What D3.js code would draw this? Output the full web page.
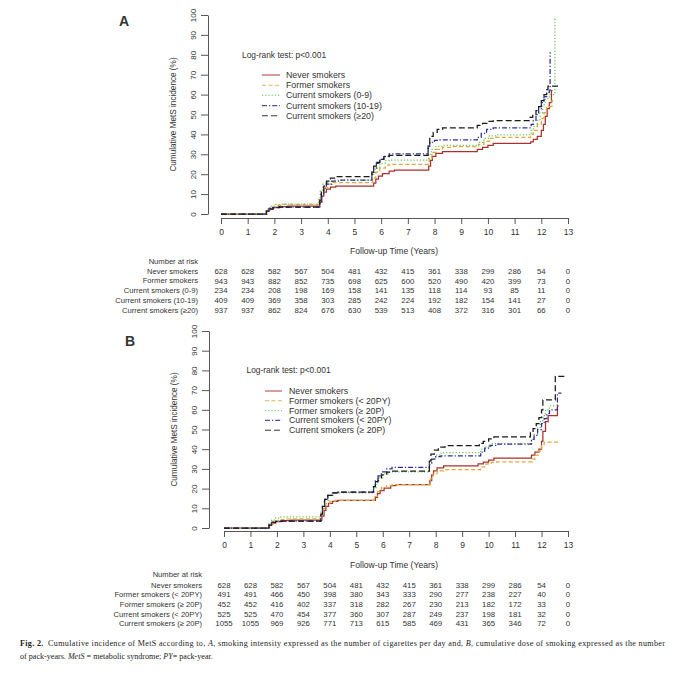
<!DOCTYPE html>
<html>
<head>
<meta charset="utf-8">
<script src="https://cdn.jsdelivr.net/npm/d3@7"></script>
<style>
  html, body { margin: 0; padding: 0; background: #fff; }
  svg { display: block; }
  text { font-family: "Liberation Sans", Arial, sans-serif; fill: #333; }
  .cap text, text.cap { font-family: "Liberation Serif", "Times New Roman", serif; fill: #222; }
</style>
</head>
<body>
<svg id="chart" width="680" height="681"></svg>
<script>
// ---------------- data ----------------
const timeTicks = [0,1,2,3,4,5,6,7,8,9,10,11,12,13];
const yTicks = [0,10,20,30,40,50,60,70,80,90,100];
const logRankText = "Log-rank test: p<0.001";
const xTitle = "Follow-up Time (Years)";
const yTitle = "Cumulative MetS incidence (%)";

// Panel A: smoking intensity
const namesA = ["Never smokers","Former smokers","Current smokers (0-9)","Current smokers (10-19)","Current smokers (\u226520)"];
const neverA = [[0,0],[1.65,0],[1.7,1.5],[1.8,2.5],[1.95,3.2],[2.15,3.7],[2.5,4],[3.65,4],[3.7,6],[3.78,9],[3.85,11],[3.95,12.5],[4.1,13.5],[4.3,14],[5.65,14],[5.72,15.5],[5.8,17.5],[5.9,19],[6.05,20.3],[6.3,21.5],[6.5,22],[7.72,22],[7.78,24],[7.85,27],[7.92,29],[8.05,30.5],[8.3,31.3],[9.5,31.3],[9.6,32.5],[9.8,33.5],[10,34.5],[10.2,35.5],[11.5,35.5],[11.6,36.3],[11.7,37.5],[11.85,39],[12.0,42],[12.08,45],[12.15,49],[12.22,53],[12.3,56],[12.38,62],[12.42,62]];
const formerA = [[0,0],[1.65,0],[1.72,2],[1.85,3.5],[2.05,4.3],[2.3,4.8],[3.6,4.8],[3.68,7],[3.75,10],[3.85,13],[4.0,15],[4.2,15.8],[5.6,15.8],[5.68,18],[5.8,21],[5.95,23],[6.15,24.5],[6.3,25],[7.72,25],[7.8,28],[7.9,31],[8.05,32.5],[8.3,33.5],[8.6,33.8],[9.5,33.8],[9.65,35],[9.85,36.5],[10.05,38],[10.3,38.5],[11.5,38.5],[11.6,40],[11.7,42],[11.85,45],[12.0,48],[12.1,51],[12.2,54],[12.35,54],[12.4,57],[12.45,57]];
const cur09A = [[0,0],[1.65,0],[1.72,2.5],[1.85,4],[2.05,4.8],[2.3,5],[3.6,5],[3.66,8],[3.72,12],[3.82,15],[4.0,16.5],[4.2,17],[5.6,17],[5.67,20],[5.78,23],[5.95,25.5],[6.15,26.8],[6.3,27.1],[7.72,27.1],[7.78,30],[7.88,32.5],[8.05,34],[8.3,34.5],[9.5,34.5],[9.65,36],[9.85,38],[10.05,39.3],[10.3,39.7],[11.55,39.7],[11.62,42],[11.7,44],[11.85,47],[11.95,51],[12.05,55],[12.15,58],[12.3,60],[12.5,60],[12.51,98],[12.52,98]];
const cur1019A = [[0,0],[1.65,0],[1.7,1.5],[1.8,2.8],[1.95,3.3],[2.2,3.5],[3.65,3.5],[3.7,6],[3.76,10],[3.85,13],[3.95,15],[4.15,16.5],[4.4,17],[5.6,17],[5.65,20],[5.72,23],[5.82,25.5],[5.95,27.5],[6.1,29],[6.3,30.2],[7.72,30.2],[7.76,34],[7.82,36],[8.0,37],[8.2,37.2],[9.5,37.2],[9.6,38.5],[9.75,40.5],[9.95,42.5],[10.2,43.3],[11.55,43.3],[11.62,45],[11.7,47],[11.8,50],[11.9,53],[12.0,56],[12.1,59],[12.2,61],[12.3,62],[12.33,81],[12.36,81]];
const cur20A = [[0,0],[1.65,0],[1.7,1.5],[1.8,2.5],[1.95,3.2],[2.2,3.5],[3.65,3.5],[3.7,7],[3.76,11],[3.85,14],[3.95,16.5],[4.1,18],[4.3,18.8],[5.6,18.8],[5.65,21],[5.72,24],[5.82,26],[5.95,27.5],[6.1,28.8],[6.3,29.5],[7.72,29.5],[7.76,35],[7.82,39],[7.95,41],[8.1,42.5],[8.3,43.3],[9.5,43.3],[9.6,44.5],[9.8,45.5],[10.0,46.5],[10.2,46.9],[11.5,46.9],[11.58,48.5],[11.68,50],[11.8,52],[11.9,54],[12.0,57],[12.1,60],[12.2,62.5],[12.25,64.3],[12.68,64.3]];
const riskNeverA   = [628,628,582,567,504,481,432,415,361,338,299,286,54,0];
const riskFormerA  = [943,943,882,852,735,698,625,600,520,490,420,399,73,0];
const riskCur09A   = [234,234,208,198,169,158,141,135,118,114,93,85,11,0];
const riskCur1019A = [409,409,369,358,303,285,242,224,192,182,154,141,27,0];
const riskCur20A   = [937,937,862,824,676,630,539,513,408,372,316,301,66,0];

// Panel B: cumulative dose (pack-years)
const namesB = ["Never smokers","Former smokers (< 20PY)","Former smokers (\u2265 20P)","Current smokers (< 20PY)","Current smokers (\u2265 20P)"];
const neverB = [[0,0],[1.65,0],[1.7,1.5],[1.8,2.5],[1.95,3.2],[2.15,3.7],[2.5,4],[3.65,4],[3.7,6],[3.78,9],[3.85,11],[3.95,12.5],[4.1,13.5],[4.3,14],[5.65,14],[5.72,15.5],[5.8,17.5],[5.9,19],[6.05,20.3],[6.3,21.5],[6.5,22],[7.72,22],[7.78,24],[7.85,27],[7.92,29],[8.05,30.5],[8.3,31.5],[9.5,31.5],[9.6,32.5],[9.8,33.5],[10,34.5],[10.2,35.5],[11.5,35.5],[11.62,37],[11.75,38.5],[11.9,40],[12.0,44],[12.05,49],[12.15,54],[12.25,57],[12.55,57],[12.6,62],[12.65,62]];
const formerLowB = [[0,0],[1.65,0],[1.72,2],[1.85,3.5],[2.05,4.3],[2.3,4.6],[3.6,4.6],[3.68,7],[3.75,10],[3.85,12.5],[4.0,13.5],[4.2,14],[5.6,14],[5.68,16],[5.8,18.5],[5.95,20.5],[6.15,21.5],[6.35,22],[7.72,22],[7.8,25],[7.9,27.5],[8.05,29],[8.3,29.6],[9.55,29.6],[9.7,31],[9.9,32.5],[10.1,33.3],[10.3,33.6],[11.55,33.6],[11.65,35],[11.75,37],[11.88,39],[12.0,42],[12.1,43.6],[12.7,43.6]];
const formerHighB = [[0,0],[1.6,0],[1.68,2.5],[1.8,4],[1.95,5],[2.1,5.6],[3.6,5.6],[3.66,8],[3.72,11],[3.8,14],[3.95,16.5],[4.15,17.8],[5.6,17.8],[5.66,20],[5.75,23],[5.85,25.5],[6.0,27.5],[6.2,28.5],[7.72,28.5],[7.78,32],[7.85,35],[8.0,37],[8.2,38.3],[9.55,38.3],[9.7,40],[9.9,41.5],[10.1,42.8],[11.55,42.8],[11.62,45],[11.72,47.5],[11.85,51],[11.95,54],[12.05,57],[12.15,60],[12.3,62],[12.5,62]];
const currentLowB = [[0,0],[1.65,0],[1.7,1.5],[1.8,2.8],[1.95,3.3],[2.2,3.5],[3.6,3.5],[3.66,7],[3.72,11],[3.8,14.5],[3.92,16.5],[4.1,17.8],[4.3,18.2],[5.6,18.2],[5.65,21],[5.72,24],[5.82,26.5],[5.95,28.5],[6.15,30],[6.35,30.8],[7.72,30.8],[7.76,33],[7.85,35],[8.0,36.2],[8.2,36.6],[9.55,36.6],[9.7,38.5],[9.85,40.5],[10.05,42],[10.3,42.6],[11.55,42.6],[11.62,45],[11.72,47],[11.85,50],[12.0,53],[12.1,55.5],[12.2,58],[12.3,60],[12.55,60],[12.6,68.5],[12.75,68.5]];
const currentHighB = [[0,0],[1.65,0],[1.7,1.5],[1.8,2.8],[1.95,3.3],[2.2,3.5],[3.6,3.5],[3.66,7],[3.72,11],[3.8,14.5],[3.92,16.5],[4.1,17.8],[4.3,18.2],[5.6,18.2],[5.65,21],[5.72,23.5],[5.82,25.5],[5.95,27],[6.15,28.3],[6.35,28.9],[7.72,28.9],[7.76,34],[7.82,37.5],[7.95,39.5],[8.1,41],[8.35,41.8],[9.55,41.8],[9.65,43],[9.8,44],[10.0,45.3],[10.2,46.2],[11.5,46.2],[11.58,48.5],[11.68,50.5],[11.8,53],[11.9,56],[12.0,60],[12.05,65],[12.48,65],[12.52,77],[12.92,77]];
const riskNeverB       = [628,628,582,567,504,481,432,415,361,338,299,286,54,0];
const riskFormerLowB   = [491,491,466,450,398,380,343,333,290,277,238,227,40,0];
const riskFormerHighB  = [452,452,416,402,337,318,282,267,230,213,182,172,33,0];
const riskCurrentLowB  = [525,525,470,454,377,360,307,287,249,237,198,181,32,0];
const riskCurrentHighB = [1055,1055,969,926,771,713,615,585,469,431,365,346,72,0];

// ---------------- styles ----------------
const lineStyles = [
  {color: "#a8332e", dash: null},
  {color: "#e0a83a", dash: "4,2.5"},
  {color: "#6cc45a", dash: "1.2,2"},
  {color: "#2e2e9a", dash: "5,2,1.2,2"},
  {color: "#1a1a1a", dash: "6,3"}
];

const svg = d3.select("#chart");

function drawPanel(cfg) {
  const g = svg.append("g");
  const x = d3.scaleLinear().domain([0, 13]).range(cfg.xr);
  const y = d3.scaleLinear().domain([0, 100]).range(cfg.yr);

  // x axis
  const xAxis = d3.axisBottom(x).tickValues(timeTicks).tickSize(6).tickPadding(3).tickSizeOuter(0);
  const gx = g.append("g").attr("transform", `translate(0,${cfg.xAxisY})`).call(xAxis);
  gx.selectAll("text").style("font-size", "8.5px").attr("fill", "#333").attr("dy", "0.9em");
  gx.selectAll("line, path").attr("stroke", "#444").attr("stroke-width", 0.9);

  // y axis
  const yAxis = d3.axisLeft(y).tickValues(yTicks).tickSize(7).tickPadding(0).tickSizeOuter(0);
  const gy = g.append("g").attr("transform", `translate(${cfg.yAxisX},0)`).call(yAxis);
  gy.selectAll("line, path").attr("stroke", "#444").attr("stroke-width", 0.9);
  gy.selectAll("text")
    .style("font-size", "8px").attr("fill", "#333")
    .attr("x", 0).attr("dy", 0)
    .attr("text-anchor", "middle")
    .attr("transform", `translate(${cfg.yLabelX - cfg.yAxisX},0) rotate(-90) translate(0,3)`);

  // titles
  g.append("text").attr("x", cfg.yTitleX).attr("y", (cfg.yr[0] + cfg.yr[1]) / 2)
    .attr("transform", `rotate(-90,${cfg.yTitleX},${(cfg.yr[0] + cfg.yr[1]) / 2})`)
    .attr("dy", "0.35em").attr("text-anchor", "middle").style("font-size", "8.2px").text(yTitle);
  g.append("text").attr("x", 394).attr("y", cfg.xTitleY).attr("text-anchor", "middle")
    .style("font-size", "8.6px").text(xTitle);

  // panel letter
  g.append("text").attr("x", cfg.letterX).attr("y", cfg.letterY).attr("text-anchor", "middle")
    .style("font-size", "14px").style("font-weight", "bold").attr("fill", "#111").text(cfg.letter);

  // curves
  const line = d3.line().x(d => x(d[0])).y(d => y(d[1])).curve(d3.curveStepAfter);
  cfg.series.forEach((s, i) => {
    g.append("path").datum(s).attr("d", line).attr("fill", "none")
      .attr("stroke", lineStyles[i].color).attr("stroke-width", 1.25)
      .attr("stroke-dasharray", lineStyles[i].dash);
  });

  // log-rank + legend
  g.append("text").attr("x", cfg.lrX).attr("y", cfg.lrY).attr("dy", "0.35em")
    .style("font-size", "8.4px").attr("fill", "#222").text(logRankText);
  cfg.names.forEach((n, i) => {
    const yy = cfg.legY0 + i * cfg.legDy;
    g.append("line").attr("x1", cfg.legX1).attr("x2", cfg.legX2).attr("y1", yy).attr("y2", yy)
      .attr("stroke", lineStyles[i].color).attr("stroke-width", 1.1)
      .attr("stroke-dasharray", lineStyles[i].dash).attr("opacity", 0.85);
    g.append("text").attr("x", cfg.legTextX).attr("y", yy).attr("dy", "0.35em")
      .style("font-size", "8.8px").attr("fill", "#222").text(n);
  });

  // risk table
  g.append("text").attr("x", cfg.tabLabelX).attr("y", cfg.tabHeadY).attr("dy", "0.35em")
    .attr("text-anchor", "end").style("font-size", "7.6px").text("Number at risk");
  cfg.risk.forEach((row, i) => {
    const yy = cfg.tabRows[i];
    g.append("text").attr("x", cfg.tabLabelX).attr("y", yy).attr("dy", "0.35em")
      .attr("text-anchor", "end").style("font-size", "7.6px").text(cfg.names[i]);
    g.selectAll(null).data(row).enter().append("text")
      .attr("x", (d, j) => x(timeTicks[j])).attr("y", yy).attr("dy", "0.35em")
      .attr("text-anchor", "middle").style("font-size", "7.8px").text(d => d);
  });
}

drawPanel({
  letter: "A", letterX: 124, letterY: 26,
  xr: [221, 568], yr: [214, 15], xAxisY: 218, yAxisX: 208, yLabelX: 193, yTitleX: 173, xTitleY: 254,
  series: [neverA, formerA, cur09A, cur1019A, cur20A], names: namesA,
  lrX: 242, lrY: 55, legX1: 262, legX2: 280, legTextX: 286, legY0: 75, legDy: 10.2,
  risk: [riskNeverA, riskFormerA, riskCur09A, riskCur1019A, riskCur20A],
  tabLabelX: 198, tabHeadY: 261, tabRows: [271, 280.8, 290.6, 300.4, 310.2]
});

drawPanel({
  letter: "B", letterX: 130, letterY: 346,
  xr: [224, 568], yr: [528, 331], xAxisY: 531, yAxisX: 209, yLabelX: 194, yTitleX: 174, xTitleY: 568,
  series: [neverB, formerLowB, formerHighB, currentLowB, currentHighB], names: namesB,
  lrX: 246.5, lrY: 370, legX1: 265, legX2: 282, legTextX: 289, legY0: 391, legDy: 9.8,
  risk: [riskNeverB, riskFormerLowB, riskFormerHighB, riskCurrentLowB, riskCurrentHighB],
  tabLabelX: 202, tabHeadY: 574.7, tabRows: [585, 594.6, 604.2, 613.9, 623.6]
});

// caption (line 1 justified to full width)
const cap = svg.append("g").attr("class", "cap");
const l1 = cap.append("text").attr("x", 20).attr("y", 646).style("font-size", "8.1px")
  .attr("textLength", 645).attr("lengthAdjust", "spacing");
l1.append("tspan").style("font-weight", "bold").text("Fig. 2.");
l1.append("tspan").text("\u2002Cumulative incidence of MetS according to, ");
l1.append("tspan").style("font-style", "italic").text("A");
l1.append("tspan").text(", smoking intensity expressed as the number of cigarettes per day and, ");
l1.append("tspan").style("font-style", "italic").text("B");
l1.append("tspan").text(", cumulative dose of smoking expressed as the number");
const l2 = cap.append("text").attr("x", 20).attr("y", 659).style("font-size", "8.1px");
l2.append("tspan").text("of pack-years. ");
l2.append("tspan").style("font-style", "italic").text("MetS");
l2.append("tspan").text(" = metabolic syndrome; ");
l2.append("tspan").style("font-style", "italic").text("PY");
l2.append("tspan").text("= pack-year.");
</script>
</body>
</html>
